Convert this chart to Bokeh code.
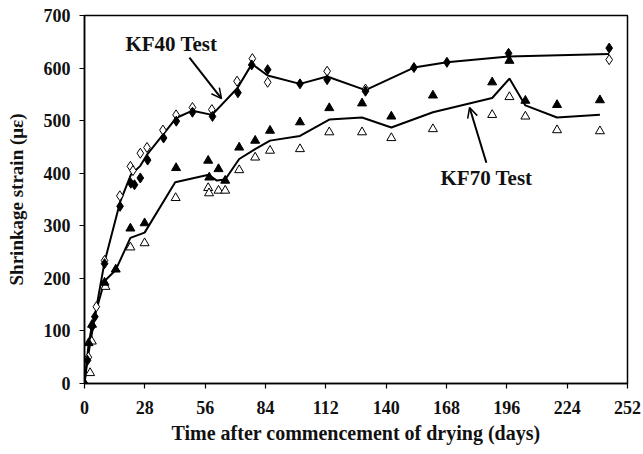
from bokeh.plotting import figure
from bokeh.models import Range1d, Label, Arrow, OpenHead, FixedTicker
from bokeh.embed import file_html
from bokeh.resources import INLINE

# ---- data ----
kf40_filled_day = [0, 1.4, 3.5, 4.8, 9.3, 16.5, 21.5, 23.2, 25.9, 29.3, 36.7, 42.6, 50.1, 59.4,
                   71.2, 77.6, 85, 100, 112.6, 130.4, 152.9, 168.2, 196.8, 243.5]
kf40_filled_val = [0, 44, 108, 127, 228, 337, 381, 378, 391, 425, 467, 499, 516, 508,
                   553, 606, 597, 570, 578, 556, 601, 611, 628, 638]

kf40_open_day = [1.8, 5.5, 9.3, 16.4, 21.3, 22.5, 25.9, 29, 36.4, 42.5, 50.1, 59.1, 70.8,
                 77.9, 85, 112.6, 130.4, 243.5]
kf40_open_val = [50, 146, 234, 357, 413, 405, 438, 449, 482, 511, 525, 521, 575,
                 618, 573, 594, 560, 616]

kf40_line_day = [0, 1.4, 5, 9.3, 16.5, 21.5, 25.9, 29.3, 36.7, 42.5, 50.1, 59.2, 71, 77.7,
                 85, 100, 112.6, 130.4, 152.9, 168.2, 196.8, 243.5]
kf40_line_val = [0, 46, 133, 231, 345, 397, 414, 437, 475, 505, 519, 511, 562, 608,
                 586, 570, 584, 558, 601, 611, 622, 627]

kf70_filled_day = [0, 1.9, 3.5, 9.3, 14.5, 21.3, 27.9, 42.5, 57.4, 57.9, 62.2, 65.3, 71.8,
                   79.2, 86.1, 100, 113.6, 128.8, 142.4, 161.7, 189.2, 197.2, 204.6, 219.3, 239.2]
kf70_filled_val = [0, 77, 112, 192, 217, 295, 305, 410, 424, 392, 408, 386, 449,
                   462, 481, 497, 524, 533, 508, 548, 573, 614, 538, 530, 539]

kf70_open_day = [2.6, 3.4, 9.7, 21.3, 27.9, 42.3, 57.4, 57.8, 62.2, 65.3, 71.8, 79.2, 86.1,
                 100, 113.6, 128.8, 142.4, 161.7, 189.2, 197.2, 204.6, 219.3, 239.2]
kf70_open_val = [20, 80, 184, 259, 267, 353, 372, 362, 367, 367, 406, 430, 443,
                 446, 478, 478, 467, 484, 511, 545, 508, 482, 480]

kf70_line_day = [0, 1.9, 3.5, 9.3, 14.5, 21.3, 27.9, 42.1, 57.6, 61.4, 65.3, 71.8, 79.2,
                 86.1, 100, 113.6, 128.8, 142.4, 161.7, 189.2, 197.2, 204.6, 219.3, 239.2]
kf70_line_val = [0, 75, 111, 195, 216, 277, 287, 383, 397, 386, 388, 427, 446,
                 462, 471, 502, 506, 487, 516, 543, 580, 529, 506, 511]

x_ticks = [0, 28, 56, 84, 112, 140, 168, 196, 224, 252]
y_ticks = [0, 100, 200, 300, 400, 500, 600, 700]

FONT = "Liberation Serif"

p = figure(width=643, height=454, output_backend="svg", toolbar_location=None,
           x_range=Range1d(0, 252), y_range=Range1d(0, 700),
           min_border_left=84, min_border_right=16, min_border_top=15, min_border_bottom=71)
p.background_fill_color = "white"
p.border_fill_color = "white"
p.grid.visible = False
p.outline_line_color = "black"
p.outline_line_width = 1.5

for ax in (p.xaxis[0], p.yaxis[0]):
    ax.axis_line_width = 1.5
    ax.axis_line_color = "black"
    ax.major_tick_line_color = "black"
    ax.major_tick_line_width = 1.2
    ax.major_tick_out = 5
    ax.major_tick_in = 0
    ax.minor_tick_line_color = None
    ax.major_label_text_font = FONT
    ax.major_label_text_font_style = "bold"
    ax.major_label_text_font_size = "18px"
    ax.major_label_text_color = "#111111"
    ax.axis_label_text_font = FONT
    ax.axis_label_text_font_style = "bold"
    ax.axis_label_text_color = "#111111"

p.xaxis.axis_label_text_font_size = "20px"
p.yaxis.axis_label_text_font_size = "19px"
p.xaxis.ticker = FixedTicker(ticks=x_ticks)
p.yaxis.ticker = FixedTicker(ticks=y_ticks)
p.xaxis.major_label_standoff = 12
p.yaxis.major_label_standoff = 9
p.xaxis.axis_label = "Time after commencement of drying (days)"
p.yaxis.axis_label = "Shrinkage strain (με)"
p.xaxis.axis_label_standoff = 5
p.yaxis.axis_label_standoff = 14

# lines
p.line(kf40_line_day, kf40_line_val, line_color="black", line_width=2)
p.line(kf70_line_day, kf70_line_val, line_color="black", line_width=2)

# markers
p.scatter(kf70_open_day, kf70_open_val, marker="triangle", size=9,
          fill_color="white", line_color="black", line_width=1)
p.scatter(kf70_filled_day, kf70_filled_val, marker="triangle", size=9,
          fill_color="black", line_color="black", line_width=1)
p.scatter(kf40_open_day, kf40_open_val, marker="diamond", size=10,
          fill_color="white", line_color="black", line_width=1)
p.scatter(kf40_filled_day, kf40_filled_val, marker="diamond", size=10,
          fill_color="black", line_color="black", line_width=1)

# annotations
p.add_layout(Label(x=19, y=645, text="KF40 Test", text_font=FONT, text_font_style="bold",
                   text_font_size="21px", text_baseline="middle", text_color="#111111"))
p.add_layout(Label(x=165.2, y=391, text="KF70 Test", text_font=FONT, text_font_style="bold",
                   text_font_size="21px", text_baseline="middle", text_color="#111111"))
p.add_layout(Arrow(end=OpenHead(size=10, line_width=1.5, line_color="black"),
                   x_start=48.7, y_start=620, x_end=63.6, y_end=542,
                   line_width=2, line_color="black"))
p.add_layout(Arrow(end=OpenHead(size=10, line_width=1.5, line_color="black"),
                   x_start=186.5, y_start=420, x_end=178.7, y_end=525,
                   line_width=2, line_color="black"))

open("out.html", "w").write(file_html(p, INLINE))
